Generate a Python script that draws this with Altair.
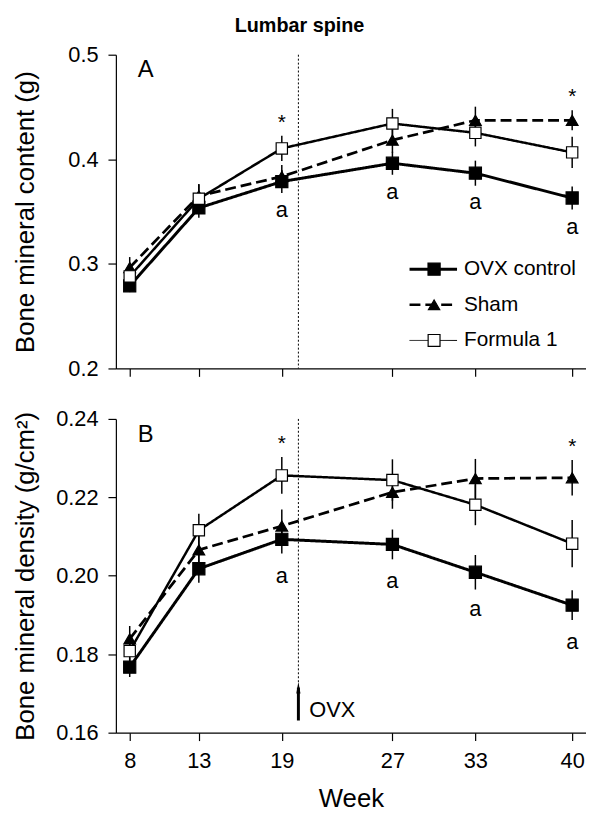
import altair as alt
import pandas as pd

# ---------------- data ----------------
weeks = [8, 13, 19, 27, 33, 40]
groups = ["OVX control", "Sham", "Formula 1"]

# Panel A: bone mineral content (g)
bmc_ovx = [0.279, 0.3535, 0.3787, 0.3962, 0.3867, 0.363]
bmc_sham = [0.2965, 0.365, 0.3835, 0.4183, 0.4373, 0.4373]
bmc_f1 = [0.288, 0.3623, 0.4104, 0.4342, 0.4253, 0.4066]
bmc_se_ovx = [0.006, 0.0095, 0.011, 0.011, 0.012, 0.011]
bmc_se_sham = [0.010, 0.011, 0.011, 0.012, 0.013, 0.0095]
bmc_se_f1 = [0.008, 0.014, 0.012, 0.014, 0.013, 0.015]

# Panel B: bone mineral density (g/cm2)
bmd_ovx = [0.1767, 0.2018, 0.2093, 0.2080, 0.2009, 0.1925]
bmd_sham = [0.1839, 0.2066, 0.2127, 0.2213, 0.2248, 0.2250]
bmd_f1 = [0.1808, 0.2116, 0.2256, 0.2244, 0.2181, 0.2082]
bmd_se_ovx = [0.0025, 0.0036, 0.0036, 0.0038, 0.0044, 0.0038]
bmd_se_sham = [0.0033, 0.0040, 0.0042, 0.0042, 0.0050, 0.0045]
bmd_se_f1 = [0.0030, 0.0042, 0.0047, 0.0053, 0.0052, 0.0060]

star_weeks = [19, 40]
a_weeks = [19, 27, 33, 40]
ovx_week = 20.2
arrow_bottom = 0.1631
arrow_head = 0.1715
dotted_B_end = 0.1729

FONT = "Liberation Sans"


def long_df(means, ses):
    rows = []
    for g, m, s in zip(groups, means, ses):
        for w, v, e in zip(weeks, m, s):
            rows.append({"week": w, "group": g, "value": v, "lo": v - e, "hi": v + e})
    return pd.DataFrame(rows)


bmc = long_df([bmc_ovx, bmc_sham, bmc_f1], [bmc_se_ovx, bmc_se_sham, bmc_se_f1])
bmd = long_df([bmd_ovx, bmd_sham, bmd_f1], [bmd_se_ovx, bmd_se_sham, bmd_se_f1])

W, H = 475, 317
SHAM_DASH = [11, 5]
xs = alt.Scale(domain=[7, 41], nice=False, zero=False)
dash_scale = alt.Scale(domain=groups, range=[[1, 0], SHAM_DASH, [1, 0]])
width_scale = alt.Scale(domain=groups, range=[3, 2.5, 1])
shape_scale = alt.Scale(domain=groups, range=["square", "triangle-up", "square"])
fill_scale = alt.Scale(domain=groups, range=["black", "black", "white"])
size_scale = alt.Scale(domain=groups, range=[150, 130, 144])


def panel(df, ydomain, yvalues, yfmt, ytitle, xaxis, xtitle, label, star_dy, a_dy, extra):
    ys = alt.Scale(domain=ydomain, nice=False, zero=False)
    yaxis = alt.Axis(values=yvalues, format=yfmt, titleX=-91, titleY=H / 2,
                     titleAngle=270, titleAlign="center", titleBaseline="middle")

    def X():
        return alt.X("week:Q", scale=xs, axis=xaxis, title=xtitle)

    def Y(field):
        return alt.Y(field, scale=ys, axis=yaxis, title=ytitle)

    base = alt.Chart(df)
    err = base.mark_rule(color="black", strokeWidth=1.5).encode(
        x=X(), y=Y("lo:Q"), y2="hi:Q")
    lines = base.mark_line(color="black").encode(
        x=X(), y=Y("value:Q"),
        strokeDash=alt.StrokeDash("group:N", scale=dash_scale, legend=None),
        strokeWidth=alt.StrokeWidth("group:N", scale=width_scale, legend=None))
    pts = base.mark_point(filled=True, stroke="black", strokeWidth=1.2, opacity=1).encode(
        x=X(), y=Y("value:Q"),
        shape=alt.Shape("group:N", scale=shape_scale, legend=None),
        fill=alt.Fill("group:N", scale=fill_scale, legend=None),
        size=alt.Size("group:N", scale=size_scale, legend=None))

    stars = df[df.week.isin(star_weeks)].groupby("week", as_index=False)["hi"].max()
    stars["t"] = "*"
    a_df = df[(df.group == groups[0]) & (df.week.isin(a_weeks))].copy()
    a_df["t"] = "a"

    star_txt = alt.Chart(stars).mark_text(fontSize=21, baseline="alphabetic", dy=star_dy,
                                          color="black", font=FONT).encode(
        x=X(), y=Y("hi:Q"), text="t:N")
    a_txt = alt.Chart(a_df).mark_text(fontSize=22, baseline="alphabetic", dy=a_dy,
                                      color="black", font=FONT).encode(
        x=X(), y=Y("value:Q"), text="t:N")
    lab = alt.Chart(pd.DataFrame({"t": [label]})).mark_text(
        fontSize=24, align="left", baseline="alphabetic", color="black", font=FONT).encode(
        x=alt.value(22), y=alt.value(23), text="t:N")

    layers = [err, lines, pts, star_txt, a_txt, lab] + extra(X, Y)
    return alt.layer(*layers).properties(width=W, height=H)


def extra_A(X, Y):
    vline = alt.Chart(pd.DataFrame({"week": [ovx_week]})).mark_rule(
        color="black", strokeWidth=1, strokeDash=[2, 2]).encode(x=X())
    out = [vline]
    # legend
    dashes = [[1, 0], SHAM_DASH, [1, 0]]
    widths = [3, 2.5, 1]
    shapes = ["square", "triangle-up", "square"]
    fills = ["black", "black", "white"]
    sizes = [150, 130, 144]
    rows_y = [216.7, 252.7, 288.7]
    for g, d, w, s, f, sz, yy in zip(groups, dashes, widths, shapes, fills, sizes, rows_y):
        one = alt.Chart(pd.DataFrame({"name": [g]}))
        out.append(one.mark_rule(color="black", strokeWidth=w, strokeDash=d).encode(
            x=alt.value(296.7), x2=alt.value(344.7), y=alt.value(yy)))
        out.append(one.mark_point(filled=True, stroke="black", strokeWidth=1.2, opacity=1,
                                  shape=s, fill=f, size=sz).encode(
            x=alt.value(321.5), y=alt.value(yy)))
        out.append(one.mark_text(fontSize=21, align="left", baseline="middle",
                                 color="black", font=FONT).encode(
            x=alt.value(351.7), y=alt.value(yy), text="name:N"))
    return out


def extra_B(X, Y):
    ref = pd.DataFrame({"week": [ovx_week], "top": [0.24], "end": [dotted_B_end],
                        "bot": [arrow_bottom], "head": [arrow_head], "t": ["OVX"]})
    c = alt.Chart(ref)
    vline = c.mark_rule(color="black", strokeWidth=1, strokeDash=[2, 2]).encode(
        x=X(), y=Y("top:Q"), y2="end:Q")
    shaft = c.mark_rule(color="black", strokeWidth=3).encode(
        x=X(), y=Y("bot:Q"), y2="head:Q")
    head = c.mark_point(filled=True, color="black", opacity=1,
                        shape="M0,-1L0.35,1L-0.35,1Z", size=144).encode(
        x=X(), y=Y("head:Q"))
    txt = c.mark_text(fontSize=22, align="left", baseline="alphabetic", dx=11, dy=-4,
                      color="black", font=FONT).encode(
        x=X(), y=Y("bot:Q"), text="t:N")
    return [vline, shaft, head, txt]


xaxis_A = alt.Axis(values=weeks, labels=False)
xaxis_B = alt.Axis(values=weeks, format="d", titlePadding=15)

pA = panel(bmc, [0.2, 0.5], [0.2, 0.3, 0.4, 0.5], ".1f", "Bone mineral content (g)",
           xaxis_A, None, "A", -7, 36, extra_A)
pB = panel(bmd, [0.16, 0.24], [0.16, 0.18, 0.20, 0.22, 0.24], ".2f",
           "Bone mineral density (g/cm²)", xaxis_B, "Week", "B", -7, 44, extra_B)

chart = alt.vconcat(pA, pB, spacing=29).properties(
    title=alt.TitleParams("Lumbar spine", fontSize=20, fontWeight="bold", anchor="middle",
                          font=FONT, color="black", offset=8),
    padding={"left": 5, "top": 4, "right": 0, "bottom": 0},
).configure(font=FONT).configure_view(stroke=None).configure_axis(
    labelFont=FONT, titleFont=FONT, labelFontSize=22, titleFontSize=26,
    titleFontWeight="normal", domainColor="black", tickColor="black",
    labelColor="black", titleColor="black", grid=False, tickSize=8,
    labelPadding=10, domainWidth=1.2, tickWidth=1.2)

chart.save("out.html", embed_options={"renderer": "svg", "actions": False})
